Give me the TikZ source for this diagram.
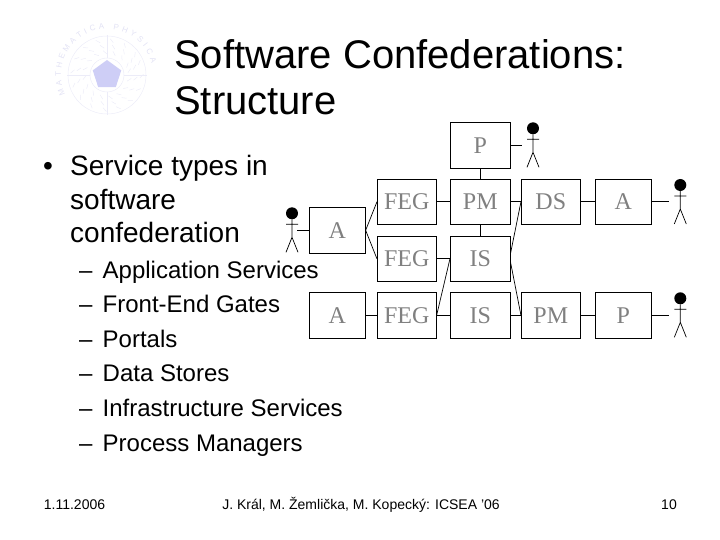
\documentclass[tikz,border=0pt]{standalone}
\usepackage{fontspec}
\setmainfont{Liberation Sans}
\newfontfamily\boxfont{Liberation Serif}
\usepackage{xcolor}
\usetikzlibrary{
    shapes.geometric,
    decorations.text,
}
\definecolor{sealpale}{RGB}{236,236,248}
\definecolor{sealtext}{RGB}{226,226,244}
\definecolor{sealfill}{RGB}{206,206,246}
\tikzset{
    % Text styles
    heading/.style={anchor=base west, inner sep=0pt, font=\fontsize{40}{40}\selectfont},
    bullet text/.style={anchor=base west, inner sep=0pt, font=\fontsize{28}{28}\selectfont},
    sub text/.style={anchor=base west, inner sep=0pt, font=\fontsize{24}{24}\selectfont},
    foot/.style={anchor=base, inner sep=0pt, font=\fontsize{14}{14}\selectfont},
    % Block styles
    block/.style={rectangle, draw, line width=0.7pt, text=black!50, inner sep=0pt,
                  minimum height=45.5pt, minimum width=59pt, font=\boxfont\fontsize{24}{24}\selectfont},
    wide block/.style={block, minimum width=60pt},
    narrow block/.style={block, minimum width=56pt},
    % Connector styles
    link/.style={line width=0.7pt},
    % Stick figure, drawn from the middle of its head
    actor/.pic={
        \fill (0,0) circle (6);
        \draw[line width=0.7pt] (0,6) -- (0,24) (-6,11) -- (6,11)
            (-6,39) -- (0,24) -- (6,39);
    },
}
\begin{document}
\begin{tikzpicture}[x=1pt, y=-1pt]
    \useasboundingbox (0,0) rectangle (720,540);

    % Seal
    \begin{scope}[shift={(107,75)}, x=1pt, y=1pt]
        \draw[sealpale, line width=0.5pt] (0,0) circle (17) (0,0) circle (39);
        \foreach \r in {21,27,33} {
            \foreach \a in {0,23,...,350} {
                \draw[sealpale, line width=0.5pt] (\a+\r:\r) -- ++(\a+\r+50:5);
            }
        }
        \foreach \a in {0,90,180,270} {
            \draw[sealpale, line width=0.5pt] (\a:17) -- (\a:40);
        }
        \path[decorate, decoration={text along path, text color=sealtext, text align={fit to path},
            text={|\fontsize{8}{8}\selectfont|MATHEMATICA PHYSICA}}]
            (205:46) arc[start angle=205, end angle=15, radius=46];
        \node[regular polygon, regular polygon sides=5, fill=sealfill, inner sep=0pt,
            minimum size=30pt] (seal) at (0,0) {};
    \end{scope}

    % Title
    \node[heading] (title1) at (174,68.3) {Software Confederations:};
    \node[heading] (title2) at (174,115) {Structure};

    % Main bullet
    \node[bullet text] (dot) at (43,175.7) {•};
    \node[bullet text] (type1) at (70,175.7) {Service types in};
    \node[bullet text] (type2) at (70,209.3) {software};
    \node[bullet text] (type3) at (70,242.7) {confederation};

    % Service list
    \foreach \i/\y/\t in {1/278.3/Application Services, 2/312.7/Front-End Gates, 3/347.3/Portals,
                          4/381.7/Data Stores, 5/416.3/Infrastructure Services, 6/451/Process Managers} {
        \node[sub text] (dash\i) at (79,\y) {–};
        \node[sub text] (item\i) at (102.5,\y) {\t};
    }

    % Blocks
    \node[wide block] (portal) at (480.3,145.5) {P};
    \node[block] (feg1) at (406.8,201.8) {FEG};
    \node[wide block] (pm1) at (480.3,201.8) {PM};
    \node[block] (ds) at (550.8,201.8) {DS};
    \node[narrow block] (app1) at (623.3,201.8) {A};
    \node[narrow block] (app2) at (337.3,230.3) {A};
    \node[block] (feg2) at (406.8,258.8) {FEG};
    \node[wide block] (is1) at (480.3,258.8) {IS};
    \node[narrow block] (app3) at (337.3,315.3) {A};
    \node[block] (feg3) at (406.8,315.3) {FEG};
    \node[wide block] (is2) at (480.3,315.3) {IS};
    \node[block] (pm2) at (550.8,315.3) {PM};
    \node[narrow block] (portal2) at (623.3,315.3) {P};

    % Actors
    \pic at (533,128.3) {actor};
    \pic at (680.3,185) {actor};
    \pic at (680.3,298.3) {actor};
    \pic at (292,213.3) {actor};
    \coordinate (hand1) at (521.7,145.5);
    \coordinate (hand2) at (669,201.8);
    \coordinate (hand3) at (669,315.3);
    \coordinate (hand4) at (297,230.3);

    % Connectors
    \draw[link] (portal) -- (pm1);
    \draw[link] (pm1) -- (is1);
    \draw[link] (feg1) -- (pm1);
    \draw[link] (pm1) -- (ds);
    \draw[link] (ds) -- (app1);
    \draw[link] (feg2) -- (is1);
    \draw[link] (app3) -- (feg3);
    \draw[link] (feg3) -- (is2);
    \draw[link] (is2) -- (pm2);
    \draw[link] (pm2) -- (portal2);
    \draw[link] (app2.east) -- (feg1.west);
    \draw[link] (app2.east) -- (feg2.west);
    \draw[link] (is1.west) -- (feg3.east);
    \draw[link] (ds.west) -- ([yshift=6pt]is1.east);
    \draw[link] ([yshift=-4pt]is1.east) -- (pm2.west);
    \draw[link] (portal) -- (hand1);
    \draw[link] (app1) -- (hand2);
    \draw[link] (portal2) -- (hand3);
    \draw[link] (app2) -- (hand4);

    % Footer
    \node[foot] (date) at (74.5,509) {1.11.2006};
    \node[foot] (authors) at (361,509) {J. Král, M. Žemlička, M. Kopecký: ICSEA '06};
    \node[foot] (page) at (669,509) {10};
\end{tikzpicture}
\end{document}
